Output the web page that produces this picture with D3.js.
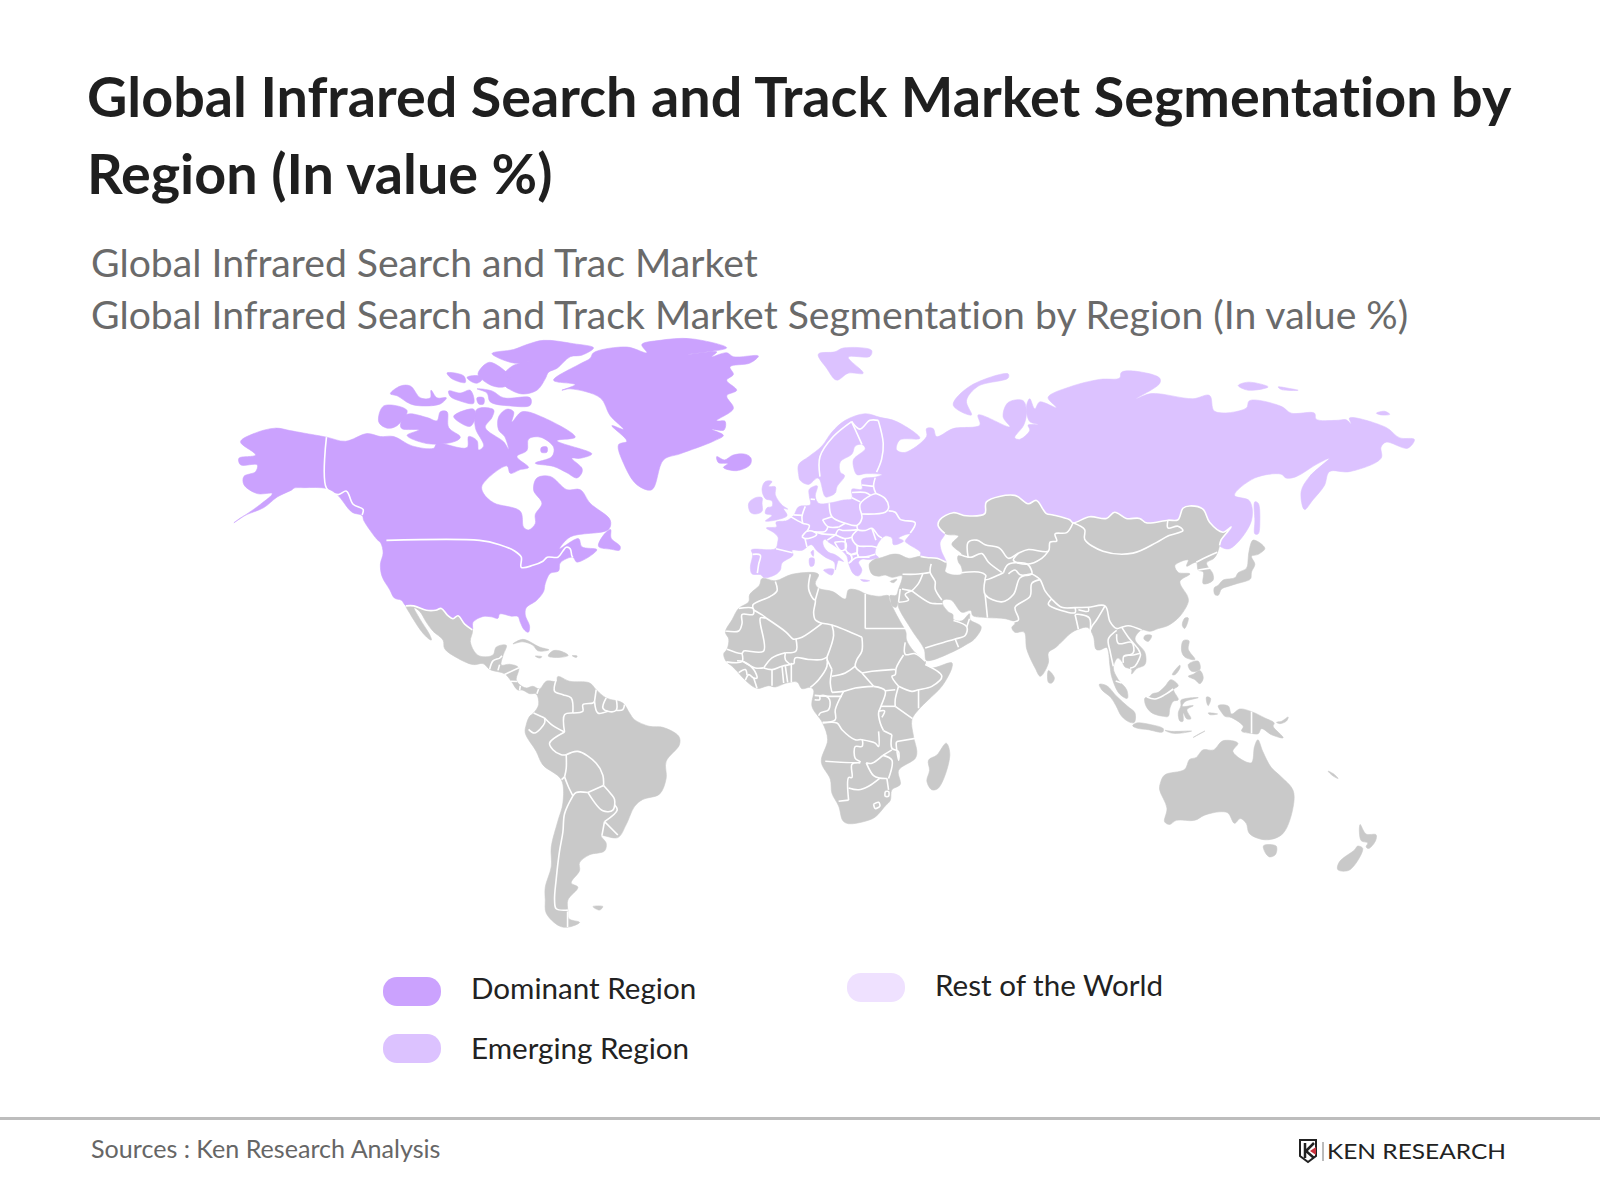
<!DOCTYPE html>
<html>
<head>
<meta charset="utf-8">
<title>Global Infrared Search and Track Market Segmentation by Region</title>
<script src="https://d3js.org/d3.v7.min.js"></script>
<style>
    html, body { margin: 0; background: #fff; }
    text { font-family: Lato, sans-serif; font-variant-ligatures: none; }
</style>
</head>
<body>
<svg id="chart" width="1600" height="1200"></svg>
<script>
var titleLines = ["Global Infrared Search and Track Market Segmentation by", "Region (In value %)"];
var subtitleLines = ["Global Infrared Search and Trac Market", "Global Infrared Search and Track Market Segmentation by Region (In value %)"];
var legendLabels = ["Dominant Region", "Emerging Region", "Rest of the World"];
var legendColors = ["#cba2fe", "#dcc2ff", "#efe1ff"];
var sourceText = "Sources : Ken Research Analysis";
var logoText = "KEN RESEARCH";

// all outlines are [lon, lat]
var usMexBorder = [[-97.2,25.9],[-99.5,27.5],[-101.5,29.8],[-103,29],[-104.7,30],[-106.5,31.8],[-108.2,31.3],[-111,31.3],[-114.8,32.5],[-117.1,32.5]];
var russiaBorder = [[131.4,44.2],[131.9,45.6],[134.9,48.6],[132.4,47.4],[128.4,49.7],[126.4,52.7],[122.4,53.4],[120.4,52.9],[118.9,50.3],[115.9,50.2],[109.4,49.6],[107.4,50.6],[103.4,50.6],[99.9,52],[97.4,50.6],[92.4,51],[87.4,49.6],[86.4,50.3],[81.4,51.4],[79.4,51.7],[76.4,54.6],[73.9,53.9],[69.9,55.7],[61.4,54.3],[60.9,51.7],[55.4,51.2],[51.4,51.9],[47.4,50.3],[46.9,48.9],[48.9,47.1]];
var caucasusLine = [[49.2,40],[46.5,41],[43.5,41.2],[41.6,41.5]];

var northAmerica = [[-156.3,71.2],[-152,70.8],[-148,70.4],[-141,69.7],[-135.3,69],[-128.8,70.3],[-124.8,69.8],[-120.8,69.8],[-115.3,68.2],[-108.8,67.8],[-107.8,68.6],[-98.8,67.9],[-98.3,69.8],[-95.8,69.1],[-95.3,67.5],[-93.8,68.2],[-96.3,71.3],[-95.8,74.2],[-90.8,74.1],[-91.3,72.9],[-93.3,71.3],[-87.8,68.9],[-86.3,67.6],[-87.5,69.8],[-89.3,70.9],[-89.3,73],[-86.8,74.2],[-84.8,73.8],[-85.3,72.2],[-82.3,73.8],[-76.3,73],[-66.3,69.7],[-71.8,69.1],[-61.3,66.8],[-64.8,66],[-67.3,66],[-64.3,64.2],[-64.3,63.3],[-65.8,62.3],[-68.8,63.3],[-72.8,64.5],[-78.3,65.1],[-73.3,66.3],[-72.8,68],[-76.8,69.7],[-80.3,69.4],[-80.8,67.4],[-83.8,66.3],[-80.3,64.3],[-82.8,63.9],[-85.8,63.2],[-86.8,64.6],[-94.3,60.8],[-93.8,59.2],[-90.8,57.3],[-82.8,55.5],[-81.8,52],[-80.3,51.4],[-78.3,52.8],[-78.3,54.8],[-76.3,57.2],[-78.8,59.9],[-77.8,62.3],[-73.8,62.6],[-68.8,60],[-64.8,60],[-61.8,57.2],[-55.8,53.6],[-56.3,51.5],[-67.8,49.8],[-71,47],[-65.3,49.4],[-64.3,47.5],[-59.8,46.8],[-65.8,43.8],[-67,45],[-70.8,43.6],[-71.3,41.6],[-73.8,41],[-75.3,38.4],[-75.8,36.3],[-78,33.9],[-81,32],[-81.3,30],[-80,26.9],[-80.4,25.2],[-81.7,26],[-82.8,28],[-83.5,29.6],[-85.5,29.7],[-89,30.3],[-89.5,29.1],[-91.5,29.5],[-94,29.6],[-97,28]].concat(usMexBorder).concat([[-118.5,34],[-120.6,34.6],[-122,36.8],[-124.3,40.2],[-124.8,43.3],[-124,46],[-124.7,48.4],[-125.8,49.2],[-127.8,51.2],[-129.8,53.5],[-130.3,54.6],[-133.3,55.3],[-137.8,59],[-140.8,60.2],[-147.8,60.4],[-150.8,60.3],[-151.3,60],[-155.8,58.5],[-159.8,56.3],[-165.8,54.5],[-168.8,53],[-160.8,57],[-157.3,59.2],[-161.8,59.2],[-165.8,61],[-165.8,62.6],[-162.3,63.5],[-161.8,64.8],[-166.8,64.8],[-167.3,66],[-162.3,66.6],[-166.8,68.9],[-162.8,70.3]]);
var newfoundland = [[-59.3,47.6],[-55.5,46.9],[-53,46.7],[-52.8,47.6],[-55.5,49.5],[-55.7,51.5],[-57.5,50.5]];
var banks = [[-125.3,72.2],[-123.8,74.7],[-116.8,74],[-119.8,71.6],[-122.8,71.2]];
var victoria = [[-118.8,71.7],[-116.8,73.4],[-110.8,72.9],[-107.8,72.4],[-106.8,73.8],[-104.8,73.8],[-104.3,71.3],[-100.8,69.7],[-102.8,68.9],[-110.8,68.6],[-116.8,70],[-113.3,70.9],[-118.3,71.1]];
var melville = [[-121.8,76.5],[-118.8,77.6],[-115.8,77.6],[-112.8,75.9],[-109.8,75.9],[-109.6,77],[-107.8,75.9],[-105,75.9],[-106.8,75],[-112.3,74.7],[-115.8,75],[-119.8,76.2]];
var bathurst = [[-104.3,76.9],[-100.8,76.6],[-97.8,77],[-96.8,75.1],[-101.3,75.5],[-103.8,76.1]];
var ringnes = [[-104.8,79.4],[-99.8,79],[-99.3,78.1],[-103.3,78.6]];
var cornwall = [[-98.8,78.8],[-95.3,79],[-94.3,78.5],[-95.8,78],[-97.8,78.3]];
var devon = [[-95.8,77.2],[-91.3,76.9],[-87.8,75.9],[-79.8,75.9],[-79.8,74.8],[-85.8,74.7],[-91.8,75.3],[-92.8,76.6]];
var cornwallis = [[-95.8,75.9],[-93.8,75.9],[-93.8,75],[-95.3,75]];
var princeOfWales = [[-102.8,73.1],[-96.8,74.2],[-96.3,72.9],[-97.8,71.5],[-100.3,71.9]];
var axelHeiberg = [[-95.5,79.3],[-92,80.8],[-85,78.3],[-87.5,77.5],[-91,77.6],[-94.5,78.6]];
var ellesmere = [[-91.3,81.9],[-84.8,82.4],[-80.8,83],[-75.8,83.5],[-66.8,83.1],[-60.8,82.6],[-64.3,81.7],[-67.8,81.5],[-71.8,80],[-74.3,79.5],[-75.3,78.6],[-77.8,77],[-82.8,76.5],[-87.8,77.9],[-85.3,78.6],[-87.8,79.1],[-84.8,80.4],[-78.8,81],[-84.8,80.7]];
var princeCharles = [[-76.5,67.9],[-74.8,68],[-74.8,67.1],[-76.5,67.1]];
var greenland = [[-60.8,82],[-50.8,82.7],[-44.8,82],[-46.3,83],[-40.8,83.5],[-31.8,83.7],[-20.8,82.6],[-32.3,81.8],[-23.8,82.1],[-25.3,81.5],[-20.8,82],[-18.8,81.5],[-11.3,81.6],[-13.8,80.7],[-19.8,80.2],[-18.8,79.2],[-20.8,78.4],[-17.8,77],[-20.8,76.2],[-18.8,74.3],[-23.8,72.4],[-21.3,72.3],[-21.6,70.9],[-25.3,71],[-21.8,70],[-24.8,69],[-34.8,66.8],[-39.8,65.7],[-43.3,60],[-47.8,61],[-51.8,65.1],[-53.3,68.4],[-50.8,69],[-55.3,71.6],[-51.8,71],[-55.8,73.2],[-58.8,75.9],[-67.8,77.2],[-70.3,77],[-66.3,77.8],[-72.8,78.4],[-64.8,80.6],[-61.8,81.3]];
var iceland = [[-23.8,66.3],[-21.5,65.7],[-18.8,66.6],[-15,66.7],[-13.5,66],[-13.8,64.8],[-17.8,63.7],[-21.8,64.3],[-20.5,65],[-23.3,65.2]];
var dominantShapes = [northAmerica, newfoundland, banks, victoria, melville, bathurst, ringnes, cornwall, devon, cornwallis, princeOfWales, axelHeiberg, ellesmere, princeCharles, greenland, iceland];

var eurasiaNorth = [[5,60],[5,62],[8,63.5],[12,65.5],[15,68],[19,70],[25,71.1],[29.4,70.5],[34.4,69.8],[41.4,66.9],[35.4,66.6],[34.4,64.8],[36.9,64.3],[43.4,67.2],[43.4,68.6],[45.4,68.6],[46.4,67.2],[51.4,68.6],[59.4,69.2],[58.9,70.9],[68.4,68.9],[66.4,70.6],[67.9,72.9],[72.4,73.2],[73.4,71.4],[72.6,69.2],[69.9,67],[71.4,66.7],[74.4,68.3],[73.9,69.2],[76.9,69.3],[74.4,69.8],[73.4,72.2],[74.4,73.5],[75.9,71.9],[77.4,73],[82.4,72.1],[79.9,73.7],[86.4,75.3],[95.4,76.4],[101.4,76.6],[101.9,77.4],[105.4,77.6],[113.4,76.6],[113.4,75.8],[106.4,73.5],[110.9,74.3],[123.4,73.5],[128.4,74],[129.9,71.5],[139.4,72],[140.4,73.2],[149.9,72.3],[152.9,71.2],[159.9,71.2],[160.4,70.2],[166.4,70],[169.4,70.1],[170.9,69.4],[170.4,70.4],[181.4,68.8],[185.4,67],[189.9,66.7],[187.9,65.1],[181.4,66.2],[179.9,65.3],[179.9,63.2],[170.4,60.6],[164.4,60.6],[162.9,57.8],[159.4,54.7],[156.9,52.6],[155.9,56.5],[158.4,59.6],[164.4,63.2],[160.4,62],[154.4,59.6],[151.4,59.3],[149.9,60.1],[141.9,59.3],[135.9,55.7],[140.4,54.5],[140.9,49.9],[134.4,43.4]];
var europeSouth = [[41.6,42.5],[38,44.5],[37,45.2],[38.5,47],[35,46],[36.5,45.3],[33.5,44.4],[33,46],[31,46.5],[28.7,44.5],[28,42],[29,41.2],[26,40.7],[24,40.8],[23,40],[24,38],[23,36.5],[21.5,37],[20,39.7],[19.5,41.5],[18.5,42.5],[15,44.5],[14,45],[13,45.7],[12.3,45.3],[12.5,44],[14,42.5],[16,41.9],[18.5,40.2],[17,40.5],[16.5,39.5],[16,38],[15.7,40],[13,41.3],[10.5,42.9],[8.8,44.4],[6,43],[3,43],[3.3,41.8],[0,39.8],[-0.5,38],[-2,36.8],[-5.3,36],[-6.4,36.8],[-9,37],[-9.5,38.7],[-8.8,42],[-9.2,43.1],[-2,43.4],[-1.3,45],[-1.2,46.2],[-2.5,47.3],[-4.7,48.4],[-1.6,48.7],[-1.8,49.7],[1.5,50.1],[3.5,51.3],[5,53.2],[8.5,53.7],[8.2,55.5],[8.2,57],[10.6,57.7],[10,55.5],[11,54],[14,54],[18.5,54.7],[21,55],[21,57],[24,57],[24,59],[28,59.5],[30,60],[25,60.2],[22.5,60],[21.5,61.5],[21.5,63],[25,65],[24,65.8],[22,65.5],[21,64],[17.5,62.5],[17.5,60.5],[18.8,59.8],[16.5,57.5],[16,56.2],[14.3,55.5],[13,55.4],[11.3,59],[10.5,59.3],[8,58],[5.5,58.8]];
var eurasiaMain = eurasiaNorth.concat(russiaBorder).concat([[47.5,45],[47.8,43]]).concat(caucasusLine).concat(europeSouth);
var novayaZemlya = [[51.4,72.5],[56.4,75.4],[67.9,77.2],[67.9,76.6],[58.9,75.4],[55.4,73.2],[56.9,70.9]];
var svalbard = [[10.9,79.9],[15.9,80.2],[18.4,80.7],[26.9,80.4],[26.4,79.6],[19.9,79.5],[24.4,77.3],[19.9,77.3],[16.4,76.3],[13.4,78]];
var newSiberia = [[137,75.5],[140,76],[146,75.3],[140,74.8]];
var newSiberia2 = [[149,75.3],[152,75.1],[155,74.8],[150,74.9]];
var wrangel = [[178.5,71.2],[181,71.5],[182.5,71],[180,70.9]];
var sakhalin = [[142,54.3],[143,54],[143.5,50],[143,47],[142,47],[142,50]];
var britain = [[-5,50],[1.5,51.2],[0.5,52.8],[1.7,52.7],[0,53.6],[-2,55.8],[-2,57.5],[-4,57.6],[-3,58.6],[-5,58.6],[-6,57],[-5,55],[-3,54.5],[-3,53.3],[-4.5,53],[-5,51.7],[-3,51.3]];
var ireland = [[-6,52.2],[-6,54],[-6,55.2],[-8,55.2],[-10,54],[-9.5,52],[-8,51.6]];
var sicily = [[12.5,38],[15.5,38.2],[15,36.7]];
var sardinia = [[8.3,41],[9.6,41],[9.5,39.2],[8.5,39]];
var corsica = [[8.7,42.5],[9.4,43],[9.4,41.5]];
var crete = [[23.6,35.5],[26.3,35.2],[24.5,35]];
var emergingShapes = [eurasiaMain, novayaZemlya, svalbard, newSiberia, newSiberia2, wrangel, sakhalin, britain, ireland, sicily, sardinia, corsica, crete];

var latinAmerica = [[-114.7,32],[-113,31],[-111,28],[-109,25.5],[-106,23],[-105.5,20.5],[-102,18],[-97,15.9],[-94,16.2],[-92,14.5],[-87.5,13.2],[-85.5,11],[-83.7,8.5],[-82,8.3],[-80,7.3],[-78,7.2],[-77.3,4],[-78.8,1.5],[-80,0.5],[-81,-2],[-81.3,-4.5],[-78,-10],[-76,-14],[-70.5,-18.3],[-70,-25],[-71.5,-30],[-73.5,-37],[-73.5,-42],[-75.3,-47],[-75.3,-50],[-75,-53],[-71,-55.8],[-68.3,-56],[-65,-55],[-68.2,-54.2],[-68.5,-52.5],[-68.5,-50],[-65.5,-47],[-67.5,-46],[-65,-43],[-65,-41],[-62,-39],[-57.5,-38],[-57,-36],[-58.5,-34],[-53.5,-34.5],[-51,-31],[-48.5,-26],[-46,-24],[-41,-22.5],[-39,-18],[-39,-13],[-35,-8],[-35.2,-5.5],[-40,-2.8],[-44,-2.5],[-48.5,-0.5],[-50,1.5],[-52,4.5],[-57,6],[-60,8.5],[-62,10.5],[-68,11],[-71.5,12.4],[-72,11],[-75,11],[-77,8.7],[-79,9.5],[-81,9],[-83,10],[-84,11.5],[-83.3,15],[-86,16],[-88.5,15.8],[-88,18.5],[-87,21.5],[-90,21],[-91,18.7],[-94,18.2],[-96,19],[-97.8,22.5]].concat(usMexBorder).concat([[-116,30.5],[-112.5,25.5],[-110.5,23.5],[-109.5,23],[-110,24.5],[-113,29]]);
var cuba = [[-85,21.9],[-82,23.2],[-77,21],[-74.2,20.2],[-77.5,19.9],[-79,21.5],[-82,22.5]];
var hispaniola = [[-74.4,18.4],[-73,19.9],[-71,19.9],[-68.4,18.6],[-71,18]];
var jamaica = [[-78.3,18.4],[-76.3,18.2],[-77,17.8]];
var puertoRico = [[-67.2,18.5],[-65.7,18.4],[-66,18]];
var falklands = [[-61,-51.5],[-58,-51.5],[-59,-52.3]];
var restWestShapes = [latinAmerica, cuba, hispaniola, jamaica, puertoRico, falklands];

var asiaMain = [[26.2,39.5],[27.5,40.6],[30,41.2],[33,42],[35,42],[38,41]].concat(caucasusLine.slice().reverse()).concat([[49.3,39],[49,37.6],[51,36.8],[54,37],[53.8,39],[53,40],[52.8,41.5],[54,42],[51,44.5],[53,46.5],[50,46.8]]).concat(russiaBorder.slice().reverse()).concat([[130.7,42.3],[129.7,41],[127.5,39.8],[129.4,37],[129.4,35.3],[126.5,34.4],[126.5,37.5],[125,38],[124.4,40],[121.5,39],[122,40.6],[118,39.2],[119,37.4],[122.5,37],[119.5,35],[121.8,31],[122,29.5],[119.5,25.5],[116,22.9],[113,22],[110.5,21.2],[108,21.6],[106,19],[109,15],[109,11.5],[106.5,10.3],[105,8.7],[105,10],[103,10.8],[102,12.5],[100.8,13.4],[99.5,10.5],[101,7],[103.5,4],[103.7,1.4],[101.3,2.8],[99,7.9],[98.5,11],[97.5,16.5],[95.5,15.8],[94.3,16],[93.5,19.8],[91.8,22.3],[89,21.8],[86.8,20.7],[82.3,16.6],[80,15],[80,12],[77.6,8],[76,10.5],[73.5,16],[72.7,21],[70,20.9],[69,22.3],[70,23.6],[67,24.8],[61.7,25.1],[57.3,25.7],[56.7,27.1],[54,26.6],[50.8,30],[48.5,30],[48.2,29],[50,26.7],[51.3,26],[51.5,24.6],[54,24.2],[56.3,26.2],[56.5,24.5],[59.8,22.5],[57.8,19],[55,17.2],[52,15.6],[45,12.8],[43.3,12.8],[42.7,16],[39,21.5],[35,28],[34.9,29.5],[34.3,28],[33,28.5],[32.6,30],[32.4,31.2],[34.3,31.3],[35,33],[36,35.5],[36,36.5],[33,36.1],[31,36.7],[29,36.4],[27,37]]);
var africaMain = [[-6,35.8],[-2,35.2],[3,36.9],[10,37.3],[11,36.8],[10,34.5],[11,33.2],[15.2,32.3],[19,30.3],[20,32.8],[23,32.6],[25,31.7],[29,31],[32,31.2],[32.3,30],[33.5,27.5],[35.5,24],[37.2,21],[37.4,18.7],[39.5,15.5],[43,12.5],[43.2,11.5],[45,10.5],[51,12],[51,10.5],[48,5],[44,1],[41,-2],[39,-5],[39.5,-10],[40.5,-14.5],[40,-16.5],[35,-20],[35.5,-24],[33,-25.5],[32.5,-28.5],[31,-30],[28,-33],[25.5,-34],[20,-34.8],[18.3,-34],[17,-30],[15,-26.5],[14.5,-22.5],[11.8,-17.5],[13.7,-11],[12.2,-6],[9,-1],[9.5,3.8],[8.5,4.7],[6,4.3],[4.5,6.3],[1,5.9],[-2,4.8],[-4,5.2],[-7.5,4.4],[-11,6.8],[-13.5,9.5],[-15,11],[-16.8,12.5],[-17.5,14.7],[-16.5,16],[-16,19],[-17,21],[-15,24.5],[-13,27.7],[-10,29.5],[-9.7,31.5],[-6.8,34]];
var madagascar = [[49.3,-12],[50.4,-15.5],[47,-25],[45,-25.5],[43.5,-23],[44.3,-20],[44,-17],[46.5,-15.5]];
var australia = [[113.6,-23.7],[114.9,-21.3],[120.9,-19.7],[122.4,-16.8],[124.4,-16.2],[126.4,-14],[129.6,-14],[132.4,-11.3],[136.9,-12],[135.4,-14.5],[140.9,-17.8],[141.9,-13],[142.9,-11],[144.4,-14.5],[146.9,-19.1],[149.9,-21.8],[153.4,-25.5],[153.6,-29.7],[150.4,-37.4],[145.4,-39],[140.4,-37.4],[139.4,-34.7],[137.6,-33.4],[135.9,-34.7],[133.9,-31.9],[131.4,-31.6],[126.9,-32.5],[123.9,-33.9],[118.4,-33.9],[116.4,-35],[114.9,-34.3],[115.6,-30.6],[113.4,-25.5]];
var tasmania = [[144.6,-40.5],[148.4,-40.6],[148.2,-42.7],[146.4,-43.3],[145.1,-42.2]];
var nzNorth = [[173.6,-35],[175.4,-37.5],[178.4,-37.7],[178.2,-39.3],[176.2,-41.2],[175.4,-40.8],[175.9,-39.8],[173.9,-39.2]];
var nzSouth = [[172.9,-40.6],[174.4,-41.2],[170.4,-46.5],[166.9,-46.4],[167.4,-44.5],[171.9,-41.6]];
var newCaledonia = [[164,-20.2],[165.5,-20.9],[167,-22.3],[165.5,-21.6]];
var japan = [[130,31.5],[129.8,33.3],[131,34],[132.5,35.4],[136,36],[137,37.3],[139.5,38.5],[140,41],[140.2,42.5],[141.5,45.5],[145,43.5],[143,42],[141,41.5],[142,39.5],[141,37.5],[140.7,35.7],[139,35],[136.8,34.5],[134,33.7],[132,33],[131,31.3]];
var taiwan = [[121,25],[122,25],[120.9,22],[120.2,23]];
var hainan = [[109,20],[111,20],[110,18.3],[108.7,19]];
var sriLanka = [[80,9.7],[81.8,7.5],[81,6],[80,6.2]];
var luzon = [[120.5,18.5],[122.2,18.5],[122,16],[124,13],[121,13.7],[120,15.5]];
var mindanao = [[122,8],[123.5,8.6],[125.5,9.7],[126.5,7.5],[125.5,5.8],[124,7]];
var visayas = [[122,11.5],[125,12.5],[125.5,10],[123,9.5]];
var palawan = [[117.2,8.5],[119.5,11.3],[119.5,10.5],[118,8.5]];
var borneo = [[109,1.5],[110,1.7],[111.3,2.8],[113,3.2],[115,5],[116.8,7],[119,5.2],[117.6,4],[119,1],[117.5,0.5],[116.5,-1.5],[116,-4],[114.5,-4],[111.7,-3.3],[110,-2],[109,0]];
var sumatra = [[95.3,5.6],[97.5,5.2],[100.5,2],[103.8,-1],[106,-3],[105.8,-5.8],[104.5,-5.8],[102,-4],[100.3,-0.8],[98.7,1.7],[96,4]];
var java = [[105.3,-6.8],[106.5,-6],[110.8,-6.5],[114.5,-7.7],[114.3,-8.7],[110,-8],[106.5,-7.5]];
var sunda = [[115,-8.2],[117,-8.5],[119,-8.5],[123,-8.4],[120,-9],[117,-9]];
var timor = [[123.5,-10.3],[127,-8.4],[125,-9.4]];
var sulawesi = [[119.8,0.8],[121,1.3],[125,1.6],[121,0.4],[120.2,-1],[123.5,-0.8],[121.6,-2],[122.8,-4.7],[121.5,-4.7],[120.5,-3],[120.4,-5.5],[119.5,-5.4],[119,-3],[119.8,-0.8]];
var halmahera = [[127.5,1.8],[128.7,1.4],[128,-0.8],[127.6,0]];
var seram = [[128,-3],[130.8,-3.3],[128.5,-3.5]];
var newGuinea = [[131,-0.8],[134,-0.9],[135,-3.3],[137.5,-1.8],[141,-2.6],[145,-4.5],[147.8,-6],[147.5,-7],[150.5,-10.4],[147,-9.5],[144,-7.7],[143,-9.2],[141,-9.1],[138,-8.4],[138.5,-7],[135,-4.4],[133,-4],[132,-2.8]];
var newBritain = [[148.5,-5.8],[150,-5.5],[152,-4.2],[151.5,-5.4],[149.5,-6.2]];
var cyprus = [[32.5,35],[34.5,35.6],[33.5,34.7]];
var restEastShapes = [asiaMain, africaMain, madagascar, australia, tasmania, nzNorth, nzSouth, newCaledonia, japan, taiwan, hainan, sriLanka, luzon, mindanao, visayas, palawan, borneo, sumatra, java, sunda, timor, sulawesi, halmahera, seram, newGuinea, newBritain, cyprus];

// country lines, drawn white on top of the land
var westBorders = [
    [[-141,69.7],[-141,60.3],[-137.5,59],[-135,59.7],[-133,57],[-130,55.9],[-130.3,54.7]],
    [[-123,49],[-95,49],[-89,48],[-84.5,46.5],[-82.5,45],[-82.5,42.5],[-79,43],[-76,44],[-74.7,45],[-71.5,45],[-70,46.5],[-69,47.4],[-67.8,47],[-67.3,45.3],[-67,45]],
    usMexBorder,
    [[-92,14.5],[-91,17],[-89,17.8],[-88.3,18.5]],[[-89,15.9],[-89.5,14.2]],[[-87.5,13],[-83.2,15]],[[-85.7,11],[-83.7,10.9]],[[-83,8.3],[-82.8,9.6]],[[-77.8,7.3],[-77.3,8.7]],
    [[-72,11.5],[-72.5,8],[-70,7],[-67.5,6],[-67,1.5]],[[-67,1.5],[-69.5,1],[-69.5,-4.2]],[[-69.5,-4.2],[-73,-2.3],[-75.5,0]],[[-75.5,0],[-78.8,1.5]],[[-75.5,0],[-75.5,-1.5],[-78.5,-4.5],[-80.3,-3.4]],[[-69.5,-4.2],[-74,-7.5],[-73,-9.5],[-70.5,-11],[-69,-11]],[[-69,-11],[-69,-15],[-69.5,-17.5]],[[-69.5,-17.5],[-70.4,-18.3]],[[-69,-11],[-65.5,-10],[-60,-13.5],[-58,-17],[-57.8,-20]],[[-57.8,-20],[-62.5,-22]],[[-62.5,-22],[-66,-22],[-67,-23]],[[-69.5,-17.5],[-68.5,-20],[-67,-23]],[[-67,-23],[-69.5,-28],[-70,-33],[-71,-38],[-72,-45],[-72.5,-50],[-72,-52],[-68.5,-52.3]],[[-68.6,-52.6],[-68.6,-56]],[[-62.5,-22],[-58,-27.2],[-55,-27],[-54.5,-24],[-55.5,-22.5],[-57.8,-20]],[[-54.5,-25.5],[-53.7,-27],[-57.5,-30.2]],[[-57.5,-30.2],[-53.5,-33.8]],[[-57.5,-30.2],[-58.3,-34]],[[-67,1.5],[-64,2],[-64,4],[-61,4.5],[-60.5,5]],[[-60.5,5],[-60,8.5]],[[-60.5,5],[-59.5,1.5],[-56.5,2]],[[-57,6],[-58,3],[-56.5,2],[-54,2.3],[-54,5.8]],[[-54,2.3],[-52,2.5],[-51.5,4]]
];
var eastBorders = [
    russiaBorder, caucasusLine,
    [[11.4,59.6],[11.4,63.5],[15.4,67.2],[20.9,69.8]],[[20.9,69.8],[23.4,66.6],[24,65.8]],[[20.9,69.8],[23.4,68.5],[26.4,70],[28.9,70]],[[28.9,70],[30.4,66],[29.9,63],[28.4,60.5]],
    [[24,57.9],[27.5,57.6]],[[21,56.3],[25,56.3],[26.6,55.7]],[[28,59.4],[27.5,57.6],[28.2,56.1]],[[28.2,56.1],[31,55],[32,53],[31,52],[24,51.6]],[[23.5,52.5],[23.5,53.9],[26.6,55.7],[28.2,56.1]],[[14.2,54],[15,51],[19,49.5],[22.5,49],[24,50.7],[23.5,52.5]],[[21,55.2],[23.5,54.3]],[[32,52.3],[34,52],[35.5,50.4],[40,49.6],[38.5,47.2]],[[22.5,49],[22.8,48],[25,47.8],[27,48.3],[29,46.5],[30,46]],[[22.8,48],[21,46.2],[22.6,44.2],[27,44],[28.6,43.7]],[[27,48.3],[28.2,45.5]],[[22.6,44.2],[23,41.4],[26.3,41.6],[28,42]],[[16.1,46.8],[17,48],[18.5,47.8],[22.8,48]],[[16.1,46.8],[18.8,45.9],[21,46.2]],[[17,48.6],[19,49.5]],[[12.2,50.3],[15,51]],[[12.2,50.3],[13.8,48.7],[17,48.6]],[[9.6,47.5],[13,47.6],[13.8,48.7]],[[9.6,47.5],[12,47],[16.1,46.8]],[[6,46.3],[7.5,47.6],[9.6,47.5],[10.4,46.8],[8.5,46],[6.9,45.9],[6,46.3]],[[7.5,47.6],[8.2,49],[6.2,49.5],[2.6,51]],[[6.2,49.5],[6,51],[7,53.3]],[[3.4,51.4],[6,51.3]],[[8.6,54.9],[9.9,54.8]],[[6.9,45.9],[7.5,43.8]],[[-1.8,43.4],[3.2,42.4]],[[-8.8,42],[-6.5,41.8],[-7,39.5],[-7.4,37.2]],[[13.6,45.5],[16.1,46.8]],[[15.8,45],[19,45],[19.2,43.5],[17.7,42.9],[15.8,45]],[[19,45.9],[19,44.5],[19.2,43],[20.5,42],[22.4,42.3],[22.6,44.2]],[[19.4,42.4],[20.5,42],[21,40.7],[20,39.7]],[[20.5,40],[22,41.1],[26.3,41.3]],[[20.8,41.9],[22.4,42.3],[23,41.3]],
    [[55.9,41.3],[55.9,45],[58.5,45.5],[61,44.4],[65,43.7],[66,43],[68,41],[71,42.3],[74,43.2],[80,42.8],[80.5,45],[82.5,45.3],[82,47],[85.5,47.3],[87.4,49.6]],[[53,42],[55.9,41.3],[57,41.3],[60,42.2],[62,40],[66,37.4]],[[53.9,37.3],[59,37.5],[61.2,36.6],[61,35.5],[64.5,36.5],[66.5,37.3]],[[66.5,37.3],[68,39.5],[73.7,39.5],[75,37],[71.5,36.8],[70,38],[68,37]],[[71,42.3],[69.5,40.5],[73.5,39.5],[78,41],[80,42.8]],[[61,35.5],[61,31.5],[66,29.5],[69.5,31.5],[71.5,36],[75,37]],[[61,31.5],[61.7,25.1]],[[68,23.7],[71,24.5],[70,28],[74.5,31],[75,34.5],[77.5,35.5]],[[75,37],[77.5,35.5],[79,32.5],[81,30.3],[84,28],[88,27.9],[92,28],[97,28.4],[98.5,24],[100.5,22],[102,22.4],[104,22.8],[108,21.6]],[[81,30.3],[80,28.8],[88,26.5],[88,27.9]],[[89,27.3],[92,26.9],[92,28]],[[88,26],[89.5,26],[92.3,25],[92.5,21]],[[88,26],[88.5,24],[89,21.8]],[[97,28.4],[94.5,24.5],[93,22.5],[92.3,20.8]],[[100.5,21.5],[98,19],[98.5,15.5],[99.5,11]],[[100.5,20.4],[101,17.7],[105,18],[105.5,15],[102.7,14]],[[102,22.4],[104,19.5],[107,16],[107.6,14.7]],[[102.5,12],[102.7,14],[105.5,14.3],[107.6,14.7],[106,11],[104.5,10.4]],[[100.2,6.6],[102,6]],[[124.4,40],[128,41.5],[130.7,42.5]],[[125,38],[128.5,38.5]],
    [[87.4,49.6],[90.9,48],[90.9,45.7],[96.4,42.8],[105.4,42.3],[112.4,44.9],[115.9,46.5],[120.4,47.8],[118.9,48.8],[115.9,48.4],[115.9,50.2]],
    [[44.8,39.6],[44.5,37.4],[46,35],[46,33],[48,30]],[[36.2,36.9],[40,36.9],[42.3,37.1],[44.5,37.4]],[[42.3,37.1],[41,34.5],[39,32.5]],[[39,32.5],[37,31.5],[38,30],[35,29.4]],[[39,32.5],[44.5,29.2],[46.5,29],[48.2,29]],[[35.5,33],[35,29.5]],[[36,33],[39,32.5]],[[51.5,24.3],[55.5,22.5],[55,20],[52,19],[48.5,18],[43,16.4]],[[52,19],[53,16.6]],[[55.5,22.5],[56.3,24.8]],
    [[-2,35],[-1.5,32.5],[-3.5,31],[-8.7,28.7],[-8.7,27.5]],[[-13,27.7],[-8.7,27.7],[-8.7,26],[-12,26],[-12,23.5],[-13,21.3],[-17,21.3]],[[-8.7,27.3],[-4.8,25],[-6.5,25],[-5.5,15.5],[-11.5,15.5],[-12,14.8],[-16.5,16]],[[-4.8,25],[1.2,21],[3.3,19],[4.2,19],[6,19.5],[12,23.5]],[[8.5,36.9],[8,33],[9.5,30.2],[10,30],[9.5,26.5],[10,24.5],[12,23.5]],[[11,33.2],[10,30]],[[12,23.5],[15,23],[24,19.5]],[[25,31.7],[25,22]],[[25,22],[37,22]],[[24,19.5],[24,15.5],[22.5,13],[22,11],[24,9]],[[15,23],[15.5,20],[13.5,13.7]],[[13.5,13.7],[12,13],[8,13],[4,13.5],[3.7,11.8]],[[4.2,19],[4.2,15.5],[1,15]],[[-5.5,10.5],[-3,13.5],[1,15]],[[-5.5,10.5],[-3,10],[0,11],[2.5,11.5],[3.7,11.8]],[[1,15],[1,13],[2.5,11.5]],[[-3,10],[-3,5.2]],[[0,11],[0.5,6]],[[1,11],[1.7,6.2]],[[2.8,12],[2.8,6.3]],[[8.5,4.7],[11,7],[13.5,11],[13.5,13.7]],[[15,10],[14.5,6],[15,3.2]],[[13.5,13],[15,10]],[[15,8],[19,9],[22,11]],[[24,9],[27.5,5]],[[15,3.2],[18.5,3.5],[22,4.5],[27.5,5]],[[9.8,2.3],[15,2],[18,2]],[[9.8,1],[11.3,1],[11.3,2.2]],[[11.3,2.2],[13,2.2],[14.3,1],[14,-2],[11.5,-3],[11,-3.8]],[[18.5,3.5],[16,-2],[16,-5],[12.2,-5.8]],[[12.2,-6],[16.5,-6],[18,-8],[22,-11],[24,-11],[24,-13],[22,-13],[22,-16.5],[23.5,-17.5],[13,-17.3]],[[24,-11],[28,-12],[29,-13],[29,-8.5]],[[27.5,5],[31,3.7],[29.7,-1],[29,-3],[29.5,-6],[30.5,-8.3]],[[30.5,-8.3],[33,-9.5]],[[33,-9.5],[33,-13.5],[35,-14.5],[35,-17],[34.3,-12],[34.5,-11.5]],[[34.5,-11.5],[40.5,-10.5]],[[30.3,-15.6],[33,-17],[32,-22.3]],[[30.3,-15.6],[33,-14]],[[30.3,-15.6],[27,-17.9],[25.3,-17.8]],[[25.3,-17.8],[27.5,-21.5],[29.4,-22.2],[31.5,-22.3]],[[23.5,-17.8],[21,-18.2],[21,-22],[20,-22],[20,-28.4]],[[20,-28.4],[17,-28.7]],[[20,-25],[23,-25.5],[26,-24.5],[29.4,-22.2]],[[31.5,-22.3],[32,-25.5]],[[31,-26],[32,-26],[32,-27.3],[31,-27.3],[31,-26]],[[27.5,-29.5],[29,-29],[29.4,-30],[28,-30.7],[27.5,-29.5]],[[24,9],[27,9.5],[33,10],[34,10]],[[36.5,14.3],[34.3,10.5],[34,8.5],[33,8],[35,5]],[[37,18],[37,14.5],[40,14.7],[43,12.5]],[[35,5],[39,3.5],[41,4],[45,5],[48,8],[43,11.5]],[[41,4],[41,-1.6]],[[35,5],[34,1],[34,-1]],[[34,-1],[39.2,-4.7]],[[29.7,-1],[34,-1]],[[29,-2.5],[30.8,-2.4],[30,-4.3]],[[31,3.7],[34,4]],[[-13.5,12.6],[-11.5,12.3],[-8.5,10],[-7.5,7.5],[-8.5,7.5],[-10,8.5],[-11,6.8]],[[-16.7,12.3],[-12,12.4],[-12,14.8]],[[-11.5,12.3],[-8,10.5],[-5.5,10.5]],[[-8.5,7.5],[-7.5,4.4]],[[-13,9.1],[-11,10],[-10.5,8.3]],
    [[109.6,1.8],[112,1.2],[115,2.5],[117.5,4.2]],[[141,-2.6],[141,-9.1]]
];

var svg = d3.select("#chart");

// map scales: meridians are straight, latitudes follow a Miller curve
var xScale = d3.scaleLinear().domain([0, 100]).range([782, 1115]);
var yScale = d3.scaleLinear().domain([0, 1]).range([703, 512.2]);
function miller(lat) {
    return 1.25 * Math.log(Math.tan(Math.PI / 4 + 0.4 * lat * Math.PI / 180));
}
var landOutline = d3.line()
    .x(function(d) { return xScale(d[0]); })
    .y(function(d) { return yScale(miller(d[1])); })
    .curve(d3.curveCatmullRomClosed.alpha(0.5));
var borderLine = d3.line()
    .x(function(d) { return xScale(d[0]); })
    .y(function(d) { return yScale(miller(d[1])); })
    .curve(d3.curveCatmullRom.alpha(0.5));

// the Americas and Iceland sit a little lower and to the right in the picture
var westShift = "translate(14,15)";
var eastShift = "translate(0,0)";

function drawLand(shapes, color, shift) {
    svg.append("g")
        .attr("transform", shift)
        .selectAll("path")
        .data(shapes)
        .enter().append("path")
        .attr("d", landOutline)
        .attr("fill", color)
        .attr("stroke", color)
        .attr("stroke-width", 0.6)
        .attr("stroke-linejoin", "round");
}

function drawBorders(lines, shift) {
    svg.append("g")
        .attr("transform", shift)
        .selectAll("path")
        .data(lines)
        .enter().append("path")
        .attr("d", borderLine)
        .attr("fill", "none")
        .attr("stroke", "#fff")
        .attr("stroke-width", 1.6)
        .attr("stroke-linejoin", "round");
}

drawLand(dominantShapes, legendColors[0], westShift);
drawLand(restWestShapes, "#c9c9c9", westShift);
drawLand(emergingShapes, legendColors[1], eastShift);
drawLand(restEastShapes, "#c9c9c9", eastShift);
drawBorders(westBorders, westShift);
drawBorders(eastBorders, eastShift);

// title and subtitle
svg.selectAll("text.title").data(titleLines).enter().append("text")
    .attr("class", "title")
    .attr("x", 87)
    .attr("y", function(d, i) { return 117 + i * 77; })
    .attr("font-size", 55.7)
    .attr("font-weight", 700)
    .attr("fill", "#1f1f1f")
    .text(function(d) { return d; });

svg.selectAll("text.subtitle").data(subtitleLines).enter().append("text")
    .attr("class", "subtitle")
    .attr("x", 91)
    .attr("y", function(d, i) { return 277 + i * 52; })
    .attr("font-size", 39.15)
    .attr("fill", "#6a6a6a")
    .text(function(d) { return d; });

// legend
var legendX = [383, 383, 847];
var legendY = [977, 1034, 973];
var legendTextY = [999, 1059, 996];
var legend = svg.selectAll("g.legend").data(legendLabels).enter().append("g")
    .attr("class", "legend")
    .attr("transform", function(d, i) { return "translate(" + legendX[i] + "," + legendY[i] + ")"; });
legend.append("rect")
    .attr("width", 58)
    .attr("height", 29)
    .attr("rx", 14)
    .attr("fill", function(d, i) { return legendColors[i]; });
legend.append("text")
    .attr("x", 88)
    .attr("y", function(d, i) { return legendTextY[i] - legendY[i]; })
    .attr("font-size", 29.6)
    .attr("fill", "#222")
    .text(function(d) { return d; });

// footer
svg.append("line")
    .attr("x1", 0).attr("x2", 1600)
    .attr("y1", 1118.5).attr("y2", 1118.5)
    .attr("stroke", "#bdbdbd")
    .attr("stroke-width", 3);
svg.append("text")
    .attr("x", 91)
    .attr("y", 1158)
    .attr("font-size", 25.1)
    .attr("fill", "#666")
    .text(sourceText);

// logo
var logo = svg.append("g").attr("transform", "translate(1299,1139)");
logo.append("path")
    .attr("d", "M1,1H17V17L9,23L1,17Z")
    .attr("fill", "none")
    .attr("stroke", "#222")
    .attr("stroke-width", 2);
logo.append("path")
    .attr("d", "M6,4V19M15,4L7,12L15,19")
    .attr("fill", "none")
    .attr("stroke", "#222")
    .attr("stroke-width", 2.5);
logo.append("path").attr("d", "M17,8V16L11,12Z").attr("fill", "#c8323c");
logo.append("line")
    .attr("x1", 24).attr("x2", 24).attr("y1", 3).attr("y2", 22)
    .attr("stroke", "#777").attr("stroke-width", 1);
logo.append("text")
    .attr("x", 28)
    .attr("y", 20)
    .attr("font-size", 22)
    .attr("fill", "#222")
    .attr("textLength", 179)
    .attr("lengthAdjust", "spacingAndGlyphs")
    .text(logoText);
</script>
</body>
</html>
